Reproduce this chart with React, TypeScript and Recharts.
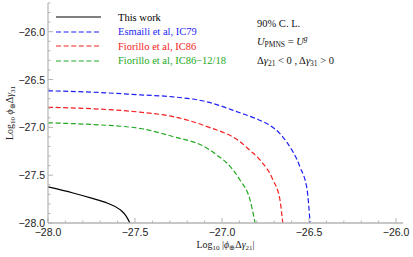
import { LineChart, Line, XAxis, YAxis } from 'recharts';

// Log10 |phi Δγ21| (x) vs Log10 phi Δγ31 (y)
const thisWorkX = [-28, -27.856, -27.75, -27.661, -27.586, -27.55, -27.529];
const thisWorkY = [-27.623, -27.686, -27.74, -27.791, -27.86, -27.93, -28];

const esmailiX = [-28, -27.75, -27.471, -27.282, -27.086, -26.897, -26.79, -26.724, -26.67, -26.626, -26.552, -26.511, -26.494];
const esmailiY = [-26.618, -26.632, -26.66, -26.681, -26.733, -26.848, -26.92, -26.98, -27.06, -27.16, -27.414, -27.654, -28];

const fiorilloX = [-28, -27.75, -27.471, -27.282, -27.086, -26.897, -26.84, -26.782, -26.707, -26.667, -26.651];
const fiorilloY = [-26.79, -26.805, -26.841, -26.887, -26.992, -27.149, -27.24, -27.34, -27.55, -27.759, -28];

const fiorillo1218X = [-28, -27.75, -27.471, -27.282, -27.086, -27.03, -26.971, -26.897, -26.839, -26.81];
const fiorillo1218Y = [-26.953, -26.97, -27.012, -27.096, -27.218, -27.29, -27.375, -27.55, -27.759, -28];

const xMajor = [-28, -27.5, -27, -26.5, -26];
const yMajor = [-28, -27.5, -27, -26.5, -26];
const xDomain = [-28, -25.96];
const yDomain = [-28, -25.7];

const series = [
  { name: 'This work', xs: thisWorkX, ys: thisWorkY, color: '#000000', dash: undefined },
  { name: 'Esmaili et al, IC79', xs: esmailiX, ys: esmailiY, color: '#1f1ff5', dash: '5 2.6' },
  { name: 'Fiorillo et al, IC86', xs: fiorilloX, ys: fiorilloY, color: '#f52020', dash: '5 2.6' },
  { name: 'Fiorillo et al, IC86\u221212/18', xs: fiorillo1218X, ys: fiorillo1218Y, color: '#22a822', dash: '5 2.6' },
];

const toPoints = (xs: number[], ys: number[]) => xs.map((x, i) => ({ x, y: ys[i] }));

// minor ticks every 0.1 between the domain limits
const minorTicks = (lo: number, hi: number) => {
  const out: number[] = [];
  for (let k = Math.ceil(lo * 10 - 1e-6); k <= Math.floor(hi * 10 + 1e-6); k++) out.push(k / 10);
  return out;
};
const xTicks = minorTicks(xDomain[0], xDomain[1]);
const yTicks = minorTicks(yDomain[0], yDomain[1]);

const FRAME = '#b4b4b4';
const SANS = '"Liberation Sans", Arial, sans-serif';
const SERIF = '"Liberation Serif", "Times New Roman", serif';
const isMajor = (v: number, majors: number[]) => majors.some((m) => Math.abs(m - v) < 1e-6);
const fmt = (v: number) => '\u2212' + Math.abs(v).toFixed(1);

const makeTick = (side: 'bottom' | 'top' | 'left' | 'right') => (props: any) => {
  const { x, y, payload } = props;
  const v = payload.value;
  const major = isMajor(v, side === 'bottom' || side === 'top' ? xMajor : yMajor);
  const len = major ? 5 : 2.5;
  let line;
  if (side === 'bottom') line = <line x1={x} x2={x} y1={y} y2={y - len} stroke={FRAME} />;
  else if (side === 'top') line = <line x1={x} x2={x} y1={y} y2={y + len} stroke={FRAME} />;
  else if (side === 'left') line = <line x1={x} x2={x + len} y1={y} y2={y} stroke={FRAME} />;
  else line = <line x1={x} x2={x - len} y1={y} y2={y} stroke={FRAME} />;
  return (
    <g>
      {line}
      {major && side === 'bottom' && (
        <text x={x} y={y + 13} textAnchor="middle" fontFamily={SANS} fontSize={10.5} fill="#222">
          {fmt(v)}
        </text>
      )}
      {major && side === 'left' && (
        <text x={x - 3} y={y + 4} textAnchor="end" fontFamily={SANS} fontSize={10.5} fill="#222">
          {fmt(v)}
        </text>
      )}
    </g>
  );
};

const XLabel = (props: any) => {
  const { viewBox } = props;
  const cx = viewBox.x + viewBox.width / 2;
  return (
    <text x={cx} y={248} textAnchor="middle" fontFamily={SERIF} fontSize={10} fill="#222">
      Log<tspan fontSize={7} dy={2}>10</tspan>
      <tspan dy={-2}> |</tspan>
      <tspan fontStyle="italic">ϕ</tspan>
      <tspan fontSize={7} dy={2}>⊕</tspan>
      <tspan dy={-2}>Δ</tspan>
      <tspan fontStyle="italic">γ</tspan>
      <tspan fontSize={7} dy={2}>21</tspan>
      <tspan dy={-2}>|</tspan>
    </text>
  );
};

const YLabel = (props: any) => {
  const { viewBox } = props;
  const cy = viewBox.y + viewBox.height / 2;
  return (
    <text x={13} y={cy} transform={`rotate(-90 13 ${cy})`} textAnchor="middle" fontFamily={SERIF} fontSize={10} fill="#222">
      Log<tspan fontSize={7} dy={2}>10</tspan>
      <tspan dy={-2}> </tspan>
      <tspan fontStyle="italic">ϕ</tspan>
      <tspan fontSize={7} dy={2}>⊕</tspan>
      <tspan dy={-2}>Δ</tspan>
      <tspan fontStyle="italic">γ</tspan>
      <tspan fontSize={7} dy={2}>31</tspan>
    </text>
  );
};

export default function App() {
  return (
    <div style={{ position: 'absolute', left: 0, top: 0, width: 413, height: 257, background: '#fff' }}>
      <LineChart width={413} height={257} margin={{ top: 3, right: 10, left: 0, bottom: 0 }}>
        <XAxis
          type="number"
          dataKey="x"
          domain={xDomain}
          allowDataOverflow
          ticks={xTicks}
          interval={0}
          tickSize={0}
          tickMargin={0}
          tickLine={false}
          tick={makeTick('bottom')}
          height={34}
          axisLine={{ stroke: FRAME, strokeWidth: 1.5 }}
          label={<XLabel />}
        />
        <XAxis
          xAxisId="top"
          orientation="top"
          type="number"
          domain={xDomain}
          allowDataOverflow
          ticks={xTicks}
          interval={0}
          tickSize={0}
          tickMargin={0}
          tickLine={false}
          tick={makeTick('top')}
          height={0}
          axisLine={{ stroke: FRAME, strokeWidth: 1.2 }}
        />
        <YAxis
          type="number"
          dataKey="y"
          domain={yDomain}
          allowDataOverflow
          ticks={yTicks}
          interval={0}
          tickSize={0}
          tickMargin={0}
          tickLine={false}
          tick={makeTick('left')}
          width={48}
          axisLine={{ stroke: FRAME, strokeWidth: 1.2 }}
          label={<YLabel />}
        />
        <YAxis
          yAxisId="right"
          orientation="right"
          type="number"
          domain={yDomain}
          allowDataOverflow
          ticks={yTicks}
          interval={0}
          tickSize={0}
          tickMargin={0}
          tickLine={false}
          tick={makeTick('right')}
          width={0}
          axisLine={{ stroke: FRAME, strokeWidth: 1.2 }}
        />
        {series.map((s) => (
          <Line
            key={s.name}
            data={toPoints(s.xs, s.ys)}
            dataKey="y"
            type="monotone"
            stroke={s.color}
            strokeWidth={1.2}
            strokeDasharray={s.dash}
            dot={false}
            activeDot={false}
            isAnimationActive={false}
          />
        ))}
      </LineChart>

      {/* legend */}
      <div style={{ position: 'absolute', left: 56, top: 10, fontFamily: SERIF, fontSize: 10.5 }}>
        {series.map((s, i) => (
          <div key={s.name} style={{ position: 'absolute', top: i * 14.5, left: 0, whiteSpace: 'nowrap', display: 'flex', alignItems: 'center', height: 14 }}>
            <svg width={46} height={6} style={{ display: 'block' }}>
              <line x1={0} x2={45} y1={3} y2={3} stroke={s.color} strokeWidth={1.2} strokeDasharray={s.dash} />
            </svg>
            <span style={{ marginLeft: 16, color: s.color }}>{s.name}</span>
          </div>
        ))}
      </div>

      {/* annotations */}
      <div style={{ position: 'absolute', left: 257, top: 15, fontFamily: SERIF, fontSize: 10.5, color: '#111', whiteSpace: 'nowrap', lineHeight: '18px' }}>
        <div>90% C. L.</div>
        <div>
          <i>U</i>
          <span style={{ fontSize: 7.5, position: 'relative', top: 2 }}>PMNS</span> = <i>U</i>
          <i style={{ fontSize: 7.5, position: 'relative', top: -4 }}>g</i>
        </div>
        <div>
          Δ<i>γ</i>
          <span style={{ fontSize: 7.5, position: 'relative', top: 2 }}>21</span> &lt; 0 , Δ<i>γ</i>
          <span style={{ fontSize: 7.5, position: 'relative', top: 2 }}>31</span> &gt; 0
        </div>
      </div>
    </div>
  );
}
